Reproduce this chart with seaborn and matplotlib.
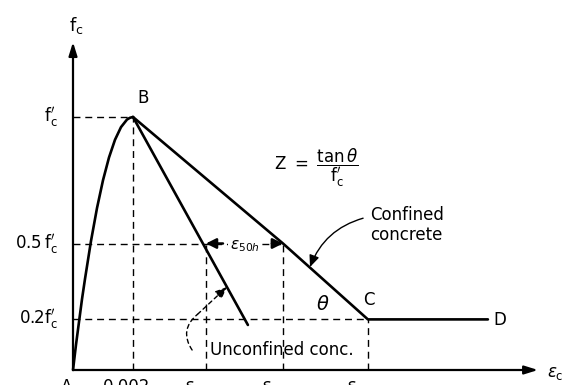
import matplotlib
matplotlib.use("Agg")
import matplotlib.pyplot as plt
import seaborn as sns
import pandas as pd

# ── Data (strain, stress / f'c) ───────────────────────────────────────
asc_strain = [0, 0.0001, 0.0002, 0.0003, 0.0004, 0.0006, 0.0008, 0.0010,
              0.0012, 0.0014, 0.0016, 0.0018, 0.0019, 0.0020]
asc_stress = [0, 0.10, 0.19, 0.28, 0.36, 0.51, 0.64, 0.75,
              0.84, 0.91, 0.96, 0.99, 0.997, 1.0]

eps0 = 0.002       # peak strain (point B)
eps50u = 0.00443   # unconfined, 50% stress
eps50c = 0.0070    # confined, 50% stress
eps20c = 0.00983   # confined, 20% stress (point C)
epsD = 0.01383     # end of plateau (point D)

unconf_strain = [eps0, 0.00583]
unconf_stress = [1.0, 0.178]
conf_strain = [eps0, eps50c, eps20c, epsD]
conf_stress = [1.0, 0.5, 0.2, 0.2]

stress_levels = [1.0, 0.5, 0.2]
stress_labels = [r"$\mathrm{f_c'}$", r"$\mathrm{0.5\,f_c'}$", r"$\mathrm{0.2f_c'}$"]
strain_ticks = [0, eps0, eps50u, eps50c, eps20c]
strain_labels = ["A", "0.002", r"$\epsilon_{50u}$", r"$\epsilon_{50c}$", r"$\epsilon_{20c}$"]

# ── Style ─────────────────────────────────────────────────────────────
sns.set_style("white")
plt.rcParams["font.family"] = ["DejaVu Sans"]
plt.rcParams["mathtext.fontset"] = "dejavusans"
plt.rcParams["text.color"] = "black"
FS = 12
K = "black"

fig = plt.figure(figsize=(5.79, 3.85), dpi=100)
ax = fig.add_axes([0, 0, 1, 1])
# pixel mapping: 30000 px per unit strain, 253 px per f'c, origin at (73, 370)
ax.set_xlim(-73 / 30000, (579 - 73) / 30000)
ax.set_ylim(-(385 - 370) / 253, 370 / 253)

# ── Axes with arrows ──────────────────────────────────────────────────
ax.annotate("", xy=(0, 1.296), xytext=(0, 0),
            arrowprops=dict(arrowstyle="-|>,head_length=0.8,head_width=0.25",
                            color=K, lw=1.6, shrinkA=0, shrinkB=0))
ax.annotate("", xy=(0.0155, 0), xytext=(0, 0),
            arrowprops=dict(arrowstyle="-|>,head_length=0.8,head_width=0.25",
                            color=K, lw=1.6, shrinkA=0, shrinkB=0))
ax.text(0.0001, 1.36, r"$\mathrm{f_c}$", fontsize=FS + 1, ha="center", va="center")
ax.text(0.0158, -0.01, r"$\epsilon_\mathrm{c}$", fontsize=FS, ha="left", va="center")

# ── Dashed guide lines ────────────────────────────────────────────────
dash = dict(color=K, lw=1.0, ls=(0, (5, 3.5)))
ax.plot([0, eps0], [1.0, 1.0], **dash)
ax.plot([0, eps50c], [0.5, 0.5], **dash)
ax.plot([0, eps20c], [0.2, 0.2], **dash)
ax.plot([eps0, eps0], [0, 1.0], **dash)
ax.plot([eps50u, eps50u], [0, 0.5], **dash)
ax.plot([eps50c, eps50c], [0, 0.5], **dash)
ax.plot([eps20c, eps20c], [0, 0.2], **dash)

# ── Curves ────────────────────────────────────────────────────────────
asc = pd.DataFrame({"strain": asc_strain, "stress": asc_stress})
unc = pd.DataFrame({"strain": unconf_strain, "stress": unconf_stress})
con = pd.DataFrame({"strain": conf_strain, "stress": conf_stress})
for d in (asc, unc, con):
    sns.lineplot(data=d, x="strain", y="stress", ax=ax, color=K, lw=1.9,
                 sort=False, estimator=None)
ax.axis("off")

# ── Labels ────────────────────────────────────────────────────────────
for lvl, lab in zip(stress_levels, stress_labels):
    ax.text(-0.0005, lvl, lab, fontsize=FS, ha="right", va="center")
for s, lab in zip(strain_ticks, strain_labels):
    ax.text(s - 0.0002, -0.033, lab, fontsize=FS, ha="center", va="top")

ax.text(0.00233, 1.075, "B", fontsize=FS, ha="center", va="center")
ax.text(0.00985, 0.277, "C", fontsize=FS, ha="center", va="center")
ax.text(0.01423, 0.198, "D", fontsize=FS, ha="center", va="center")
ax.text(0.00833, 0.257, r"$\theta$", fontsize=FS + 2, ha="center", va="center")
ax.text(0.0081, 0.80,
        r"$\mathrm{Z\ =\ }\dfrac{\mathrm{tan}\,\theta}{\mathrm{f_c'}}$",
        fontsize=FS, ha="center", va="center")
ax.text(0.0099, 0.573, "Confined\nconcrete", fontsize=FS, ha="left", va="center",
        linespacing=1.1)
ax.text(0.00457, 0.079, "Unconfined conc.", fontsize=FS, ha="left", va="center")

# epsilon_50h with arrows pointing outwards
ax.text(0.00573, 0.49, r"$\epsilon_{50h}$", fontsize=FS - 1, ha="center", va="center",
        zorder=4, bbox=dict(boxstyle="square,pad=0.1", fc="white", ec="none"))
head = dict(arrowstyle="-|>,head_length=0.6,head_width=0.3", color=K, lw=1.8,
            shrinkA=0, shrinkB=0)
ax.annotate("", xy=(eps50u, 0.5), xytext=(0.00500, 0.5), arrowprops=head, zorder=5)
ax.annotate("", xy=(eps50c, 0.5), xytext=(0.00663, 0.5), arrowprops=head, zorder=5)

# curved pointer to confined branch
ax.annotate("", xy=(0.0079, 0.407), xytext=(0.00967, 0.60),
            arrowprops=dict(arrowstyle="-|>,head_length=0.7,head_width=0.3",
                            color=K, lw=1.0, shrinkA=0, shrinkB=0,
                            connectionstyle="arc3,rad=0.25"))

# dashed curved pointer to unconfined branch
ax.annotate("", xy=(0.00415, 0.22), xytext=(0.00397, 0.079),
            arrowprops=dict(arrowstyle="-", color=K, lw=1.0, ls=(0, (3, 2.5)),
                            shrinkA=0, shrinkB=0, connectionstyle="arc3,rad=-0.45"))
ax.annotate("", xy=(0.00513, 0.328), xytext=(0.00415, 0.22),
            arrowprops=dict(arrowstyle="-|>,head_length=0.7,head_width=0.3",
                            color=K, lw=1.0, ls=(0, (3, 2.5)), shrinkA=0, shrinkB=0))

fig.savefig("out.png", dpi=100)
